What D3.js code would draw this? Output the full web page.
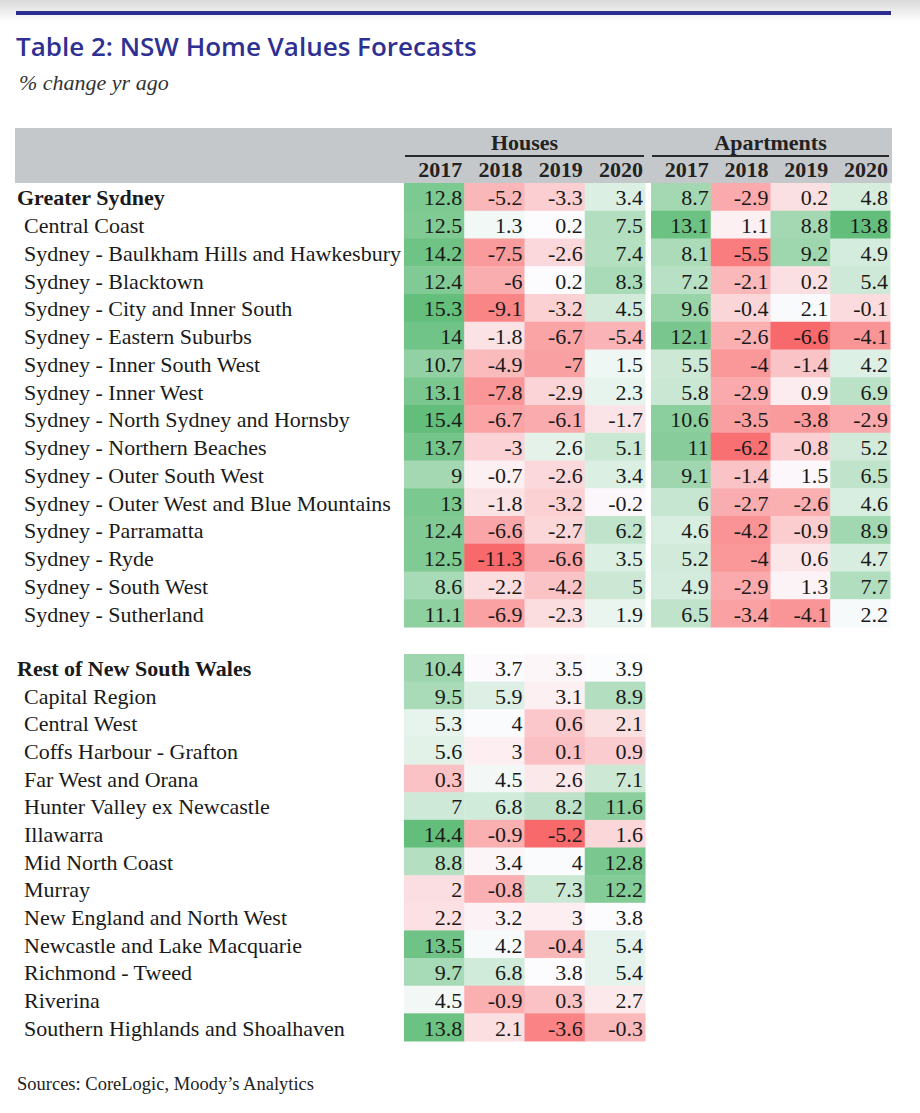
<!DOCTYPE html>
<html>
<head>
<meta charset="utf-8">
<script src="https://cdn.jsdelivr.net/npm/d3@7"></script>
<style>
  html, body { margin: 0; padding: 0; background: #fff; }
  svg { display: block; }
</style>
</head>
<body>
<div id="chart"></div>
<script>
// ---------- DATA ----------
const years = ["2017", "2018", "2019", "2020"];
const groupLabels = ["Houses", "Apartments"];

const sydneyLabels = [
  "Greater Sydney",
  "Central Coast",
  "Sydney - Baulkham Hills and Hawkesbury",
  "Sydney - Blacktown",
  "Sydney - City and Inner South",
  "Sydney - Eastern Suburbs",
  "Sydney - Inner South West",
  "Sydney - Inner West",
  "Sydney - North Sydney and Hornsby",
  "Sydney - Northern Beaches",
  "Sydney - Outer South West",
  "Sydney - Outer West and Blue Mountains",
  "Sydney - Parramatta",
  "Sydney - Ryde",
  "Sydney - South West",
  "Sydney - Sutherland"
];
const sydneyHouses = [
  [12.8, -5.2, -3.3, 3.4],
  [12.5, 1.3, 0.2, 7.5],
  [14.2, -7.5, -2.6, 7.4],
  [12.4, -6, 0.2, 8.3],
  [15.3, -9.1, -3.2, 4.5],
  [14, -1.8, -6.7, -5.4],
  [10.7, -4.9, -7, 1.5],
  [13.1, -7.8, -2.9, 2.3],
  [15.4, -6.7, -6.1, -1.7],
  [13.7, -3, 2.6, 5.1],
  [9, -0.7, -2.6, 3.4],
  [13, -1.8, -3.2, -0.2],
  [12.4, -6.6, -2.7, 6.2],
  [12.5, -11.3, -6.6, 3.5],
  [8.6, -2.2, -4.2, 5],
  [11.1, -6.9, -2.3, 1.9]
];
const sydneyApartments = [
  [8.7, -2.9, 0.2, 4.8],
  [13.1, 1.1, 8.8, 13.8],
  [8.1, -5.5, 9.2, 4.9],
  [7.2, -2.1, 0.2, 5.4],
  [9.6, -0.4, 2.1, -0.1],
  [12.1, -2.6, -6.6, -4.1],
  [5.5, -4, -1.4, 4.2],
  [5.8, -2.9, 0.9, 6.9],
  [10.6, -3.5, -3.8, -2.9],
  [11, -6.2, -0.8, 5.2],
  [9.1, -1.4, 1.5, 6.5],
  [6, -2.7, -2.6, 4.6],
  [4.6, -4.2, -0.9, 8.9],
  [5.2, -4, 0.6, 4.7],
  [4.9, -2.9, 1.3, 7.7],
  [6.5, -3.4, -4.1, 2.2]
];

const restLabels = [
  "Rest of New South Wales",
  "Capital Region",
  "Central West",
  "Coffs Harbour - Grafton",
  "Far West and Orana",
  "Hunter Valley ex Newcastle",
  "Illawarra",
  "Mid North Coast",
  "Murray",
  "New England and North West",
  "Newcastle and Lake Macquarie",
  "Richmond - Tweed",
  "Riverina",
  "Southern Highlands and Shoalhaven"
];
const restHouses = [
  [10.4, 3.7, 3.5, 3.9],
  [9.5, 5.9, 3.1, 8.9],
  [5.3, 4, 0.6, 2.1],
  [5.6, 3, 0.1, 0.9],
  [0.3, 4.5, 2.6, 7.1],
  [7, 6.8, 8.2, 11.6],
  [14.4, -0.9, -5.2, 1.6],
  [8.8, 3.4, 4, 12.8],
  [2, -0.8, 7.3, 12.2],
  [2.2, 3.2, 3, 3.8],
  [13.5, 4.2, -0.4, 5.4],
  [9.7, 6.8, 3.8, 5.4],
  [4.5, -0.9, 0.3, 2.7],
  [13.8, 2.1, -3.6, -0.3]
];

const boldRows = ["Greater Sydney", "Rest of New South Wales"];

// ---------- LAYOUT ----------
const W = 920, H = 1113;
const serif = "'Liberation Serif', 'DejaVu Serif', serif";
const sans = "'Open Sans', 'Noto Sans', sans-serif";

const svg = d3.select("#chart").append("svg")
  .attr("width", W).attr("height", H)
  .attr("viewBox", `0 0 ${W} ${H}`);

// faint page shadow at top
const defs = svg.append("defs");
const grad = defs.append("linearGradient").attr("id", "topShade")
  .attr("x1", 0).attr("y1", 0).attr("x2", 0).attr("y2", 1);
grad.append("stop").attr("offset", "0%").attr("stop-color", "#d9d9d9");
grad.append("stop").attr("offset", "100%").attr("stop-color", "#ffffff");
svg.append("rect").attr("x", 0).attr("y", 0).attr("width", W).attr("height", 22)
  .attr("fill", "url(#topShade)");

// top rule
svg.append("rect").attr("x", 16).attr("y", 11).attr("width", 875).attr("height", 4)
  .attr("fill", "#2b2d8e");

// title
svg.append("text").attr("x", 16).attr("y", 56)
  .attr("font-family", sans).attr("font-size", 26).attr("font-weight", 600)
  .attr("fill", "#2e3192")
  .text("Table 2: NSW Home Values Forecasts");

svg.append("text").attr("x", 19).attr("y", 90)
  .attr("font-family", serif).attr("font-style", "italic").attr("font-size", 22)
  .attr("fill", "#333")
  .text("% change yr ago");

// header band
svg.append("rect").attr("x", 15).attr("y", 128).attr("width", 877).attr("height", 55)
  .attr("fill", "#c5c8cb");

// column scales
const xHouses = d3.scaleBand().domain(years).range([404, 645]);
const xApts = d3.scaleBand().domain(years).range([651, 890]);
const groupScales = [xHouses, xApts];

// group headers
groupScales.forEach((xs, gi) => {
  const [a, b] = xs.range();
  svg.append("text").attr("x", (a + b) / 2).attr("y", 150)
    .attr("text-anchor", "middle")
    .attr("font-family", serif).attr("font-weight", "bold").attr("font-size", 22)
    .attr("fill", "#222")
    .text(groupLabels[gi]);
  svg.append("line").attr("x1", a + 1).attr("x2", b - 1)
    .attr("y1", 156).attr("y2", 156)
    .attr("stroke", "#2a2a2a").attr("stroke-width", 2);
  svg.selectAll(null).data(years).enter().append("text")
    .attr("x", d => xs(d) + xs.bandwidth() - 2)
    .attr("y", 177)
    .attr("text-anchor", "end")
    .attr("font-family", serif).attr("font-weight", "bold").attr("font-size", 22)
    .attr("fill", "#222")
    .text(d => d);
});

// colour scale: Excel-style 3-colour scale (min / 50th percentile / max) per block
function colourScale(matrix) {
  const vals = matrix.flat();
  const mn = d3.min(vals), mx = d3.max(vals), md = d3.median(vals);
  return d3.scaleLinear().domain([mn, md, mx])
    .range(["#f8696b", "#fcfcff", "#63be7b"])
    .interpolate(d3.interpolateRgb);
}

function drawBlock(labels, matrix, xs, yRange, withLabels) {
  const y = d3.scaleBand().domain(labels).range(yRange);
  const col = colourScale(matrix);
  const g = svg.append("g");
  const cells = [];
  matrix.forEach((row, ri) => row.forEach((v, ci) => cells.push({ label: labels[ri], year: years[ci], v })));
  g.selectAll("rect").data(cells).enter().append("rect")
    .attr("x", d => xs(d.year))
    .attr("y", d => y(d.label))
    .attr("width", xs.bandwidth() + 0.5)
    .attr("height", y.bandwidth() + 0.5)
    .attr("fill", d => col(d.v));
  g.selectAll("text").data(cells).enter().append("text")
    .attr("x", d => xs(d.year) + xs.bandwidth() - 2)
    .attr("y", d => y(d.label) + y.bandwidth() - 5.5)
    .attr("text-anchor", "end")
    .attr("font-family", serif).attr("font-size", 22)
    .attr("fill", "#1a1a1a")
    .text(d => d.v);
  if (withLabels) {
    svg.append("g").selectAll("text").data(labels).enter().append("text")
      .attr("x", d => boldRows.includes(d) ? 17 : 24)
      .attr("y", d => y(d) + y.bandwidth() - 5.5)
      .attr("font-family", serif).attr("font-size", 22)
      .attr("font-weight", d => boldRows.includes(d) ? "bold" : "normal")
      .attr("fill", "#1a1a1a")
      .text(d => d);
  }
}

drawBlock(sydneyLabels, sydneyHouses, xHouses, [183, 627], true);
drawBlock(sydneyLabels, sydneyApartments, xApts, [183, 627], false);
drawBlock(restLabels, restHouses, xHouses, [654, 1041], true);

// source
svg.append("text").attr("x", 17).attr("y", 1090)
  .attr("font-family", serif).attr("font-size", 18.5)
  .attr("fill", "#222")
  .text("Sources: CoreLogic, Moody\u2019s Analytics");
</script>
</body>
</html>
